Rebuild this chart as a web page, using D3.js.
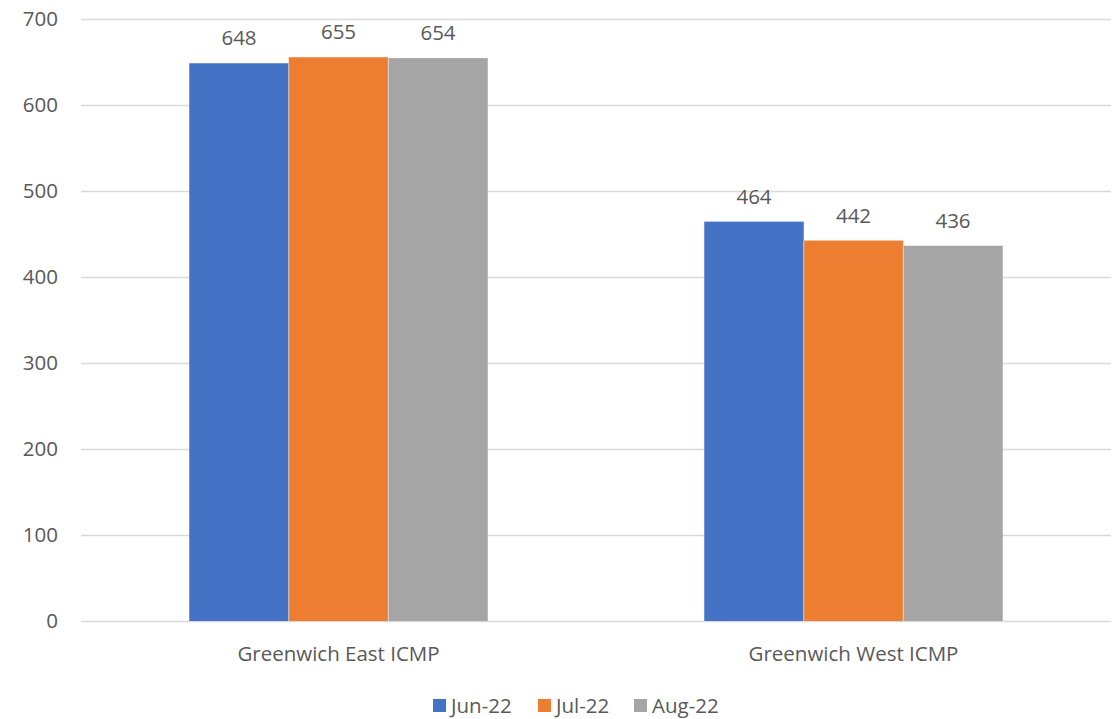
<!DOCTYPE html>
<html>
<head>
<meta charset="utf-8">
<script src="https://cdn.jsdelivr.net/npm/d3@7"></script>
<style>
  body { margin: 0; background: #fff; }
  text { font-family: "Open Sans", "Liberation Sans", sans-serif; fill: #595959; }
</style>
</head>
<body>
<div class="svg"></div>
<script>
var categories = ["Greenwich East ICMP", "Greenwich West ICMP"];
var months = ["Jun-22", "Jul-22", "Aug-22"];
var jun22 = [648, 464];
var jul22 = [655, 442];
var aug22 = [654, 436];
var yTicks = [0, 100, 200, 300, 400, 500, 600, 700];
var colors = ["#4472c4", "#ed7d31", "#a5a5a5"];

var series = [jun22, jul22, aug22];
var data = [];
categories.forEach(function(c, i) {
  months.forEach(function(m, j) {
    data.push({cat: c, month: m, value: series[j][i], k: j});
  });
});

var width = 1117, height = 719;
var margin = {top: 18.5, right: 6, bottom: 98, left: 81};
var fontSize = "20.5px";

var svg = d3.select("div.svg")
  .append("svg")
  .attr("width", width)
  .attr("height", height);

var x = d3.scaleBand()
  .domain(categories)
  .range([margin.left, width - margin.right]);

var x1 = d3.scaleBand()
  .domain(months)
  .range([0, x.bandwidth()])
  .paddingOuter(1.088)
  .paddingInner(0);

var y = d3.scaleLinear()
  .domain([0, 700])
  .range([height - margin.bottom, margin.top]);

// gridlines
svg.append("g")
  .selectAll("line")
  .data(yTicks)
  .enter().append("line")
  .attr("x1", margin.left)
  .attr("x2", width - margin.right)
  .attr("y1", d => Math.round(y(d)) + 0.5)
  .attr("y2", d => Math.round(y(d)) + 0.5)
  .attr("stroke", "#d9d9d9")
  .attr("stroke-width", 1.3);

// y labels
svg.append("g")
  .selectAll("text")
  .data(yTicks)
  .enter().append("text")
  .attr("x", 58)
  .attr("y", d => y(d))
  .attr("dy", "0.35em")
  .attr("text-anchor", "end")
  .style("font-size", fontSize)
  .text(d => d);

// bars
svg.append("g")
  .selectAll("rect")
  .data(data)
  .enter().append("rect")
  .attr("x", d => x(d.cat) + x1(d.month))
  .attr("y", d => y(d.value))
  .attr("width", x1.bandwidth())
  .attr("height", d => y(0) - y(d.value))
  .attr("fill", d => colors[d.k]);

// thin light separators between adjacent bars
svg.append("g")
  .selectAll("line")
  .data(data.filter(d => d.k > 0))
  .enter().append("line")
  .attr("x1", d => x(d.cat) + x1(d.month))
  .attr("x2", d => x(d.cat) + x1(d.month))
  .attr("y1", d => y(Math.min(d.value, series[d.k - 1][categories.indexOf(d.cat)])))
  .attr("y2", y(0))
  .attr("stroke", "#ffffff")
  .attr("stroke-opacity", 0.5)
  .attr("stroke-width", 1);

// value labels
svg.append("g")
  .selectAll("text")
  .data(data)
  .enter().append("text")
  .attr("x", d => x(d.cat) + x1(d.month) + x1.bandwidth() / 2)
  .attr("y", d => y(d.value) - 18)
  .attr("text-anchor", "middle")
  .style("font-size", fontSize)
  .text(d => d.value);

// category labels
svg.append("g")
  .selectAll("text")
  .data(categories)
  .enter().append("text")
  .attr("x", d => x(d) + x.bandwidth() / 2)
  .attr("y", 661)
  .attr("text-anchor", "middle")
  .style("font-size", fontSize)
  .text(d => d);

// legend
var legendX = [433, 538, 634];
var legend = svg.append("g")
  .selectAll("g")
  .data(months)
  .enter().append("g")
  .attr("transform", (d, i) => `translate(${legendX[i]}, 699)`);

legend.append("rect")
  .attr("width", 13)
  .attr("height", 13)
  .attr("fill", (d, i) => colors[i]);

legend.append("text")
  .attr("x", 18)
  .attr("y", 14)
  .style("font-size", fontSize)
  .text(d => d);
</script>
</body>
</html>
